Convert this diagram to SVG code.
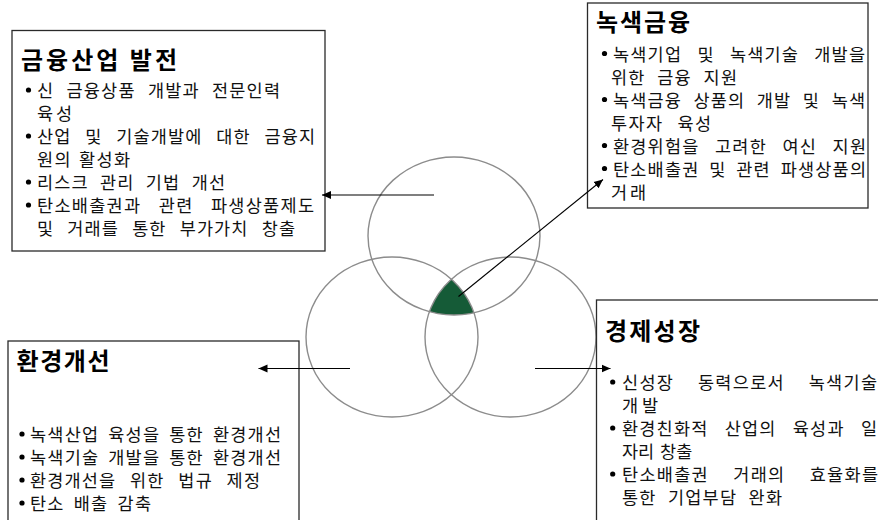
<svg xmlns="http://www.w3.org/2000/svg" width="878" height="520" viewBox="0 0 878 520">
<style>
.box{fill:#fff;stroke:#2a2a2a;stroke-width:1.3}
.ring{fill:none;stroke:#8c8c8c;stroke-width:1.4}
.title{font-family:"Noto Sans CJK KR","Noto Sans",sans-serif;font-size:24px;font-weight:700;fill:#000}
.t{font-family:"Noto Sans CJK KR","Noto Sans",sans-serif;font-size:17.5px;font-weight:400;fill:#111}
.b{fill:#000}
.arr{stroke:#000;stroke-width:1.1;fill:none;marker-end:url(#ah)}
</style>
<defs>
<marker id="ah" markerUnits="userSpaceOnUse" markerWidth="10" markerHeight="10" viewBox="0 0 10 10" refX="9" refY="5" orient="auto">
<path d="M0,1 L9,5 L0,9 Z" fill="#000"/>
</marker>
<clipPath id="cBL"><ellipse cx="392" cy="337" rx="86" ry="80"/></clipPath>
<clipPath id="cBR"><ellipse cx="510.5" cy="337" rx="85.5" ry="80"/></clipPath>
</defs>

<g id="venn">
<g clip-path="url(#cBL)"><ellipse cx="454" cy="236" rx="86" ry="79" fill="#155b37" clip-path="url(#cBR)"/></g>
<ellipse class="ring" cx="454" cy="236" rx="86" ry="79"/>
<ellipse class="ring" cx="392" cy="337" rx="86" ry="80"/>
<ellipse class="ring" cx="510.5" cy="337" rx="85.5" ry="80"/>
</g>

<g id="box-finance">
<rect class="box" x="12" y="30.5" width="313" height="220.5"/>
<text class="title" x="21" y="69" textLength="156" lengthAdjust="spacing">금융산업 발전</text>
<circle class="b" cx="28.5" cy="90" r="2.6"/>
<text class="t" x="37" y="97" word-spacing="7.1" textLength="243" lengthAdjust="spacing">신 금융상품 개발과 전문인력</text>
<text class="t" x="37" y="120" textLength="35" lengthAdjust="spacing">육성</text>
<circle class="b" cx="28.5" cy="136" r="2.6"/>
<text class="t" x="37" y="143" word-spacing="8.7" textLength="278" lengthAdjust="spacing">산업 및 기술개발에 대한 금융지</text>
<text class="t" x="37" y="166" word-spacing="1.6" textLength="93" lengthAdjust="spacing">원의 활성화</text>
<circle class="b" cx="28.5" cy="182" r="2.6"/>
<text class="t" x="37" y="189" word-spacing="6.2" textLength="188" lengthAdjust="spacing">리스크 관리 기법 개선</text>
<circle class="b" cx="28.5" cy="205" r="2.6"/>
<text class="t" x="37" y="212" word-spacing="12.1" textLength="277" lengthAdjust="spacing">탄소배출권과 관련 파생상품제도</text>
<text class="t" x="37" y="235" word-spacing="8.1" textLength="258" lengthAdjust="spacing">및 거래를 통한 부가가치 창출</text>
</g>

<g id="box-greenfinance">
<rect class="box" x="587.5" y="3" width="280.5" height="205"/>
<text class="title" x="596" y="31" textLength="94" lengthAdjust="spacing">녹색금융</text>
<circle class="b" cx="604.5" cy="53.5" r="2.6"/>
<text class="t" x="613" y="60.5" word-spacing="10.1" textLength="252" lengthAdjust="spacing">녹색기업 및 녹색기술 개발을</text>
<text class="t" x="611" y="83.5" word-spacing="6.6" textLength="126" lengthAdjust="spacing">위한 금융 지원</text>
<circle class="b" cx="604.5" cy="99.5" r="2.6"/>
<text class="t" x="613" y="106.5" word-spacing="6.6" textLength="252" lengthAdjust="spacing">녹색금융 상품의 개발 및 녹색</text>
<text class="t" x="611" y="129.5" word-spacing="8.6" textLength="100" lengthAdjust="spacing">투자자 육성</text>
<circle class="b" cx="604.5" cy="145.5" r="2.6"/>
<text class="t" x="613" y="152.5" word-spacing="10.4" textLength="253" lengthAdjust="spacing">환경위험을 고려한 여신 지원</text>
<circle class="b" cx="604.5" cy="168.5" r="2.6"/>
<text class="t" x="613" y="175.5" word-spacing="4.6" textLength="253" lengthAdjust="spacing">탄소배출권 및 관련 파생상품의</text>
<text class="t" x="611" y="198.5" textLength="35" lengthAdjust="spacing">거래</text>
</g>

<g id="box-environment">
<rect class="box" x="8" y="341" width="291" height="190"/>
<text class="title" x="16.5" y="370" textLength="93" lengthAdjust="spacing">환경개선</text>
<circle class="b" cx="22" cy="434" r="2.6"/>
<text class="t" x="30" y="441" word-spacing="3.9" textLength="251" lengthAdjust="spacing">녹색산업 육성을 통한 환경개선</text>
<circle class="b" cx="22" cy="457" r="2.6"/>
<text class="t" x="30" y="464" word-spacing="3.9" textLength="251" lengthAdjust="spacing">녹색기술 개발을 통한 환경개선</text>
<circle class="b" cx="22" cy="480" r="2.6"/>
<text class="t" x="30" y="487" word-spacing="8.6" textLength="230" lengthAdjust="spacing">환경개선을 위한 법규 제정</text>
<circle class="b" cx="22" cy="503" r="2.6"/>
<text class="t" x="30" y="510" word-spacing="4.1" textLength="121" lengthAdjust="spacing">탄소 배출 감축</text>
</g>

<g id="box-growth">
<rect class="box" x="596.5" y="300" width="290" height="230"/>
<text class="title" x="605" y="340" textLength="95" lengthAdjust="spacing">경제성장</text>
<circle class="b" cx="612.7" cy="382" r="2.6"/>
<text class="t" x="622" y="389" word-spacing="18.6" textLength="255" lengthAdjust="spacing">신성장 동력으로서 녹색기술</text>
<text class="t" x="622" y="412" textLength="36" lengthAdjust="spacing">개발</text>
<circle class="b" cx="612.7" cy="428" r="2.6"/>
<text class="t" x="622" y="435" word-spacing="11.1" textLength="255" lengthAdjust="spacing">환경친화적 산업의 육성과 일</text>
<text class="t" x="622" y="458" word-spacing="2">자리 창출</text>
<circle class="b" cx="612.7" cy="474" r="2.6"/>
<text class="t" x="622" y="481" word-spacing="19.1" textLength="256" lengthAdjust="spacing">탄소배출권 거래의 효율화를</text>
<text class="t" x="622" y="504" word-spacing="6.1" textLength="160" lengthAdjust="spacing">통한 기업부담 완화</text>
</g>

<g id="connectors">
<line class="arr" x1="434" y1="195" x2="322" y2="195"/>
<line class="arr" x1="458.5" y1="296.5" x2="603" y2="179.5"/>
<line class="arr" x1="350" y1="368.5" x2="258.5" y2="368.5"/>
<line class="arr" x1="535" y1="368.5" x2="610.5" y2="368.5"/>
</g>
</svg>
